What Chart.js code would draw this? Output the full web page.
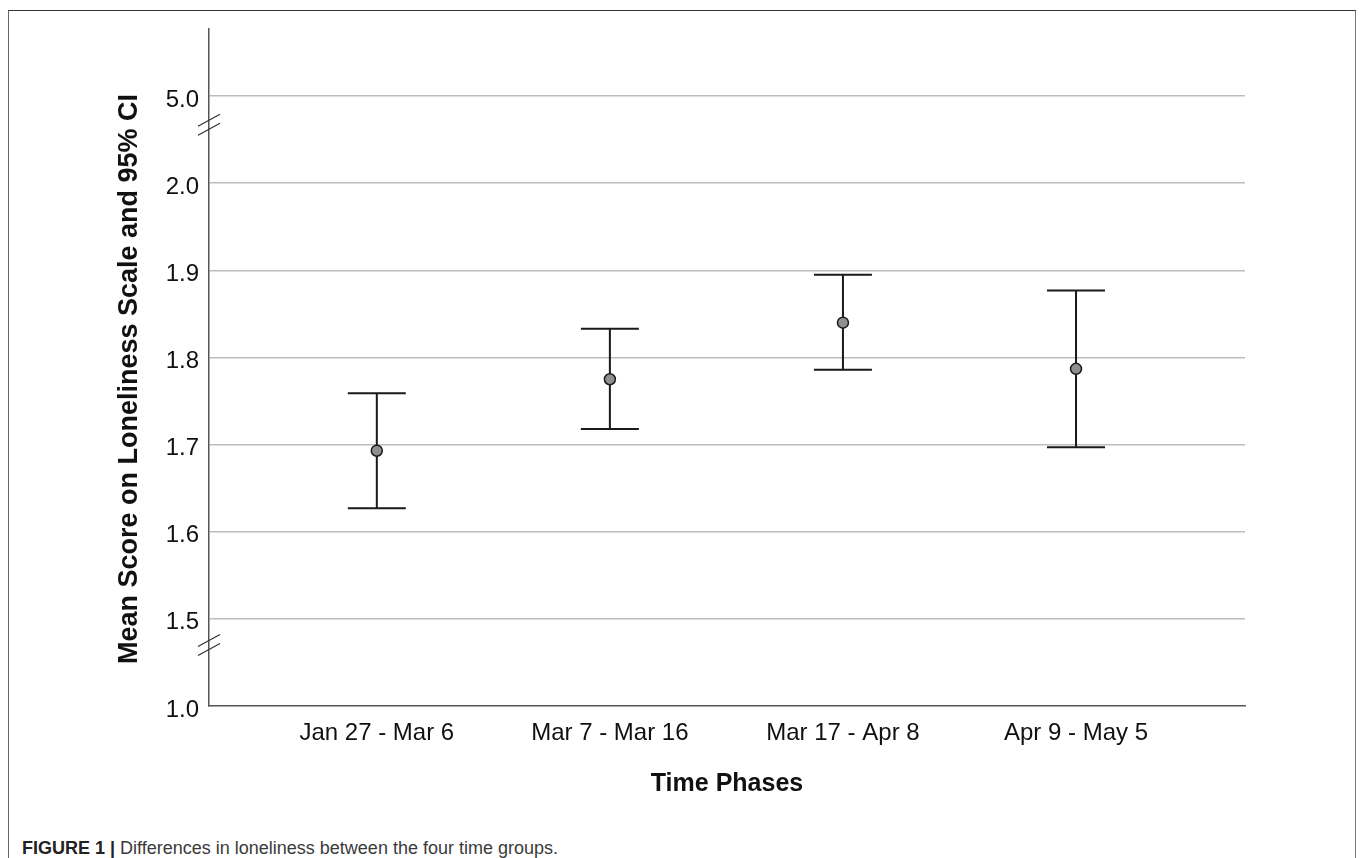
<!DOCTYPE html>
<html>
<head>
<meta charset="utf-8">
<script src="https://cdn.jsdelivr.net/npm/chart.js@4/dist/chart.umd.min.js"></script>
<style>
    html, body { margin: 0; padding: 0; background: #fff; }
    #wrap { position: relative; width: 1360px; height: 858px; overflow: hidden; }
    #frame {
        position: absolute; left: 8px; top: 10px; width: 1346px; height: 900px;
        border-top: 1.5px solid #333; border-left: 1.5px solid #666; border-right: 1.5px solid #777;
    }
    #chartBox { position: absolute; left: 0; top: 0; width: 1360px; height: 800px; }
    #caption {
        position: absolute; left: 22px; top: 838px;
        font-family: 'Liberation Sans', Arial, sans-serif; font-size: 18px; color: #3a3a3a;
        white-space: nowrap;
    }
    #caption b { color: #222; }
</style>
</head>
<body>
<div id="wrap">
    <div id="frame"></div>
    <div id="chartBox"><canvas id="errChart" width="1360" height="800"></canvas></div>
    <div id="caption"><b>FIGURE 1 |</b> Differences in loneliness between the four time groups.</div>
</div>
<script>
// ==================== Data ====================

const phases = ['Jan 27 - Mar 6', 'Mar 7 - Mar 16', 'Mar 17 - Apr 8', 'Apr 9 - May 5'];
const means = [1.693, 1.775, 1.840, 1.787];
const ciLower = [1.627, 1.718, 1.786, 1.697];
const ciUpper = [1.759, 1.833, 1.895, 1.877];

// y axis is broken: 1.0 | 1.5 ... 2.0 | 5.0, ticks evenly spaced
const yTickLabels = [1.0, 1.5, 1.6, 1.7, 1.8, 1.9, 2.0, 5.0];

const FONT = "'Liberation Sans', Arial, sans-serif";

/**
 * 실제 값 -> 끊어진 축 위치
 */
function toAxis(v) {
    if (v <= 1.5) return (v - 1.0) / 0.5;
    if (v <= 2.0) return 1 + (v - 1.5) / 0.1;
    return 6 + (v - 2.0) / 3.0;
}

// ==================== Plugins ====================

// error bars drawn under the mean markers
const errorBarPlugin = {
    id: 'errorBars',
    beforeDatasetsDraw(chart) {
        const { ctx, scales } = chart;
        ctx.save();
        ctx.strokeStyle = '#1a1a1a';
        ctx.lineWidth = 2;
        phases.forEach((p, i) => {
            const x = scales.x.getPixelForValue(i);
            const yTop = scales.y.getPixelForValue(toAxis(ciUpper[i]));
            const yBot = scales.y.getPixelForValue(toAxis(ciLower[i]));
            const half = 29;
            ctx.beginPath();
            ctx.moveTo(x, yTop); ctx.lineTo(x, yBot);
            ctx.moveTo(x - half, yTop); ctx.lineTo(x + half, yTop);
            ctx.moveTo(x - half, yBot); ctx.lineTo(x + half, yBot);
            ctx.stroke();
        });
        ctx.restore();
    }
};

// axis break marks + rotated y title
const axisDecorPlugin = {
    id: 'axisDecor',
    afterDraw(chart) {
        const { ctx, scales, chartArea } = chart;
        const x0 = chartArea.left;
        ctx.save();
        ctx.strokeStyle = '#333';
        ctx.lineWidth = 1.2;
        // break positions in axis units (between 1.0|1.5 and 2.0|5.0)
        [0.7, 6.67].forEach(pos => {
            const yc = scales.y.getPixelForValue(pos);
            [-4.5, 4.5].forEach(dy => {
                ctx.beginPath();
                ctx.moveTo(x0 - 11, yc + dy + 6);
                ctx.lineTo(x0 + 11, yc + dy - 6);
                ctx.stroke();
            });
        });

        ctx.translate(130, 379);
        ctx.rotate(-Math.PI / 2);
        ctx.fillStyle = '#111';
        ctx.font = 'bold 27px ' + FONT;
        ctx.textAlign = 'center';
        ctx.textBaseline = 'middle';
        ctx.fillText('Mean Score on Loneliness Scale and 95% CI', 0, 0);
        ctx.restore();
    }
};

// ==================== Chart ====================

new Chart(document.getElementById('errChart'), {
    type: 'scatter',
    data: {
        datasets: [{
            data: means.map((m, i) => ({ x: i, y: toAxis(m) })),
            pointRadius: 5.5,
            pointHoverRadius: 5.5,
            pointBackgroundColor: '#8f8f8f',
            pointBorderColor: '#1a1a1a',
            pointBorderWidth: 1.5
        }]
    },
    options: {
        responsive: false,
        animation: false,
        layout: { padding: { left: 0, right: 115, top: 29, bottom: 0 } },
        plugins: {
            legend: { display: false },
            tooltip: { enabled: false }
        },
        scales: {
            x: {
                type: 'linear',
                min: -0.72,
                max: 3.725,
                afterBuildTicks(scale) {
                    scale.ticks = phases.map((p, i) => ({ value: i }));
                },
                afterFit(scale) { scale.height = 94; },
                grid: { display: false, drawTicks: false },
                border: { color: '#555', width: 1.5 },
                ticks: {
                    padding: 13,
                    color: '#111',
                    font: { family: FONT, size: 24 },
                    callback: (v) => phases[v]
                },
                title: {
                    display: true,
                    text: 'Time Phases',
                    color: '#111',
                    font: { family: FONT, size: 25, weight: 'bold' },
                    padding: { top: 3, bottom: 1 }
                }
            },
            y: {
                min: 0,
                max: 7.77,
                afterBuildTicks(scale) {
                    scale.ticks = yTickLabels.map((v, i) => ({ value: i }));
                },
                afterFit(scale) { scale.width = 209; },
                grid: {
                    drawTicks: false,
                    color: (c) => c.index === 0 ? 'rgba(0,0,0,0)' : '#bdbdbd',
                    lineWidth: 1.5
                },
                border: { color: '#555', width: 1.5 },
                ticks: {
                    padding: 10,
                    labelOffset: 4,
                    color: '#111',
                    font: { family: FONT, size: 24 },
                    callback: (v) => yTickLabels[v].toFixed(1)
                }
            }
        }
    },
    plugins: [errorBarPlugin, axisDecorPlugin]
});
</script>
</body>
</html>
